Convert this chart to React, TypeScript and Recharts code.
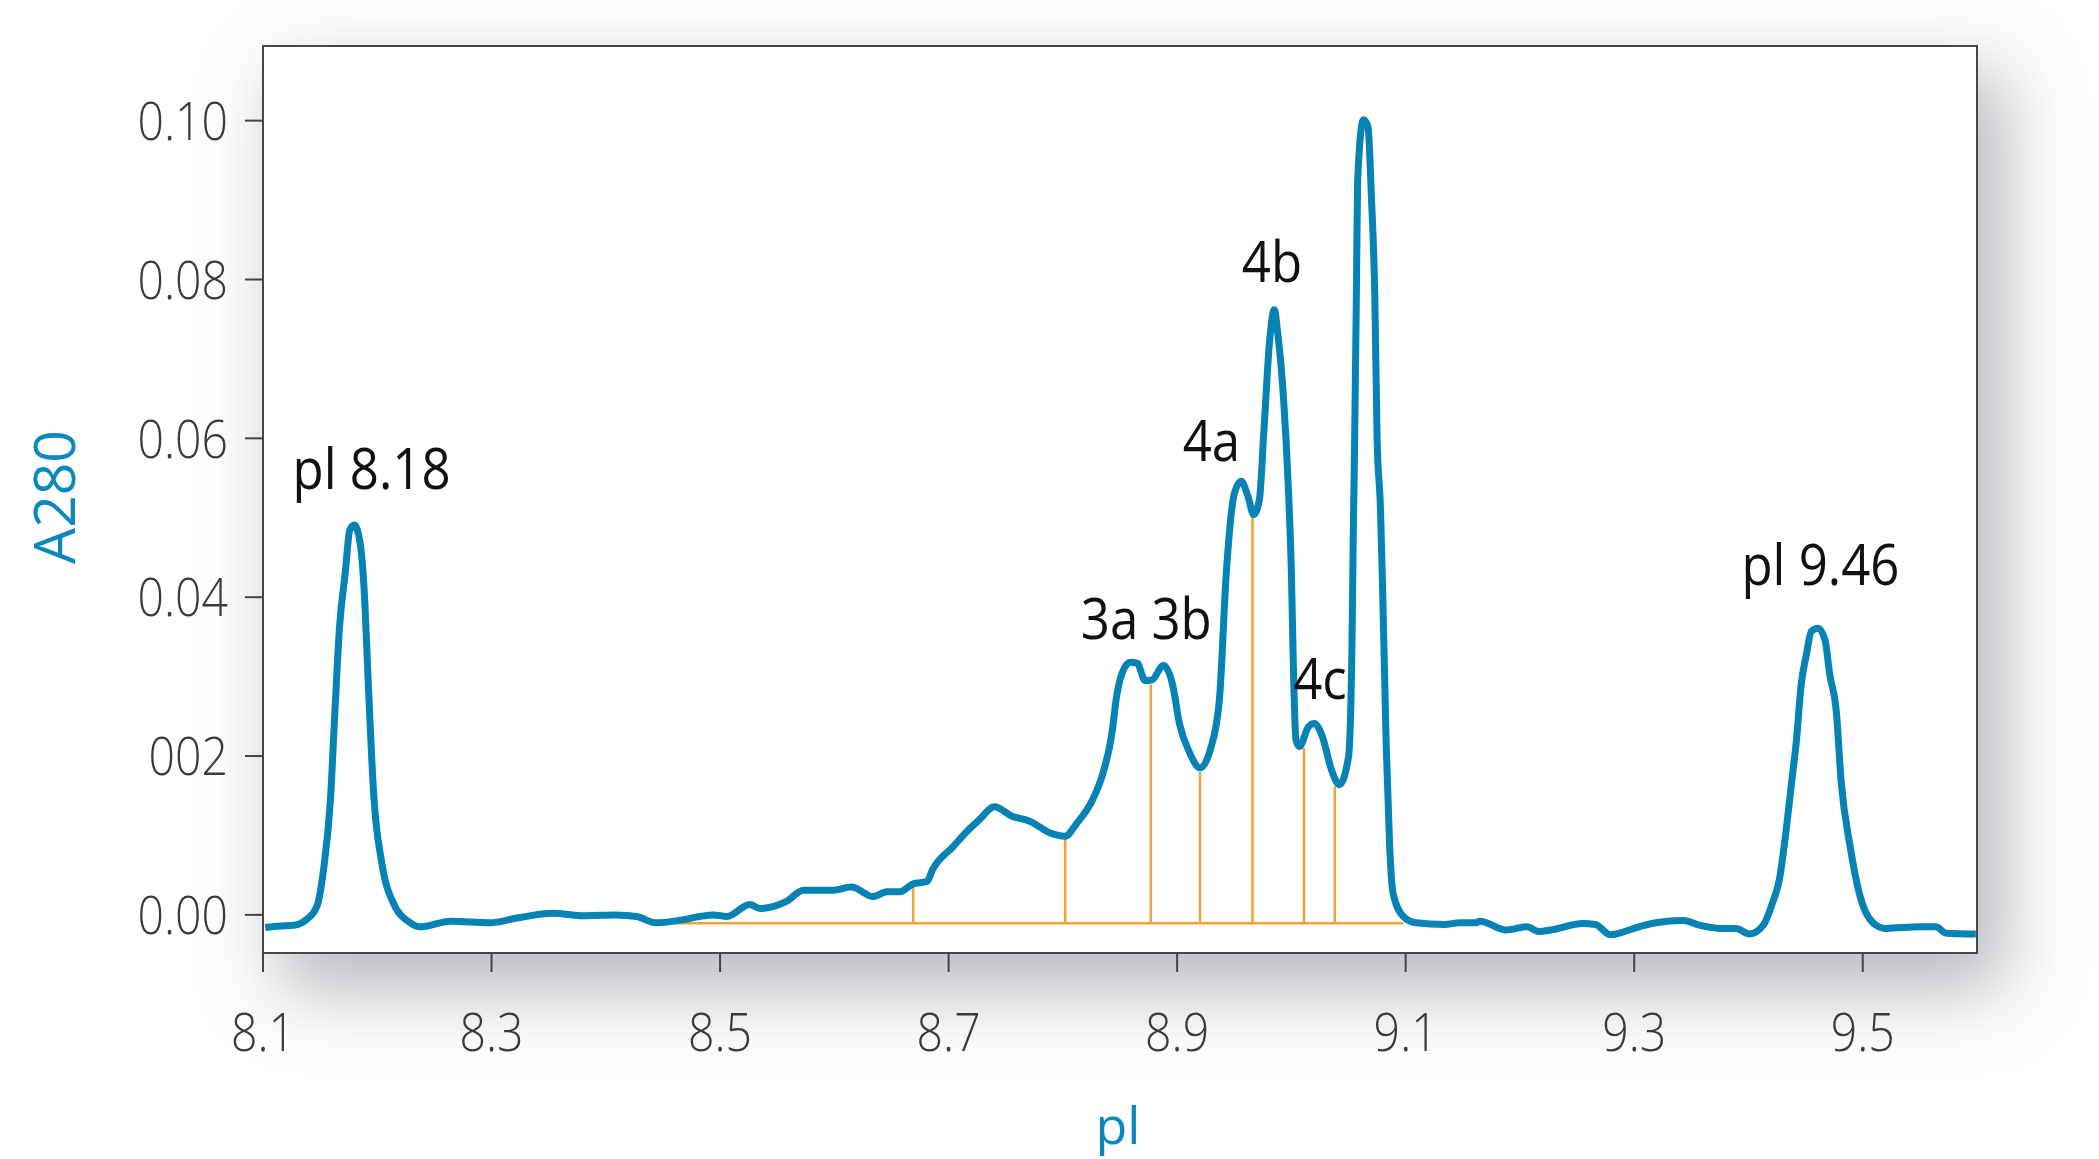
import { ComposedChart, Line, Scatter, XAxis, YAxis } from "recharts";

// axis ticks
const X_TICKS = [8.1, 8.3, 8.5, 8.7, 8.9, 9.1, 9.3, 9.5];
const X_TICK_LABELS = ["8.1", "8.3", "8.5", "8.7", "8.9", "9.1", "9.3", "9.5"];
const Y_TICKS = [0, 0.02, 0.04, 0.06, 0.08, 0.1];
const Y_TICK_LABELS = ["0.00", "002", "0.04", "0.06", "0.08", "0.10"];

// A280 trace
const PI_VALUES = [
  8.102, 8.115, 8.127, 8.138, 8.147, 8.153, 8.159, 8.163, 8.167, 8.172,
  8.176, 8.18, 8.185, 8.189, 8.192, 8.197, 8.204, 8.214, 8.229, 8.237,
  8.264, 8.299, 8.322, 8.354, 8.38, 8.409, 8.427, 8.444, 8.468, 8.482,
  8.494, 8.506, 8.526, 8.535, 8.558, 8.573, 8.599, 8.615, 8.634, 8.646,
  8.657, 8.669, 8.681, 8.686, 8.704, 8.716, 8.727, 8.74, 8.756, 8.771,
  8.789, 8.802, 8.812, 8.826, 8.835, 8.843, 8.847, 8.852, 8.859, 8.865,
  8.872, 8.878, 8.888, 8.896, 8.902, 8.911, 8.92, 8.929, 8.937, 8.943,
  8.95, 8.956, 8.962, 8.967, 8.972, 8.976, 8.981, 8.985, 8.988, 8.993,
  8.997, 9.0, 9.002, 9.004, 9.007, 9.015, 9.02, 9.027, 9.035, 9.042,
  9.05, 9.053, 9.054, 9.055, 9.057, 9.058, 9.063, 9.067, 9.07, 9.073,
  9.075, 9.078, 9.08, 9.083, 9.086, 9.089, 9.098, 9.109, 9.134, 9.147,
  9.161, 9.165, 9.188, 9.206, 9.217, 9.227, 9.255, 9.266, 9.279, 9.287,
  9.302, 9.319, 9.343, 9.357, 9.375, 9.389, 9.401, 9.413, 9.421, 9.427,
  9.433, 9.438, 9.442, 9.446, 9.451, 9.455, 9.461, 9.467, 9.471, 9.477,
  9.481, 9.489, 9.497, 9.509, 9.52, 9.55, 9.564, 9.573, 9.599,
];
const A280_VALUES = [
  -0.0016, -0.0014, -0.0013, -0.0006, 0.001, 0.0057, 0.0145, 0.0258, 0.0363, 0.0431,
  0.0485, 0.0491, 0.0468, 0.0397, 0.0296, 0.0149, 0.0065, 0.0015, -0.001, -0.0015,
  -0.0008, -0.001, -0.0004, 0.0002, -0.0001, 0.0, -0.0002, -0.001, -0.0006, -0.0002,
  0.0, -0.0002, 0.0013, 0.0008, 0.0017, 0.0031, 0.0031, 0.0035, 0.0023, 0.0029,
  0.0029, 0.0039, 0.0042, 0.0057, 0.0086, 0.0105, 0.012, 0.0136, 0.0124, 0.0118,
  0.0103, 0.0099, 0.0115, 0.0145, 0.0178, 0.0229, 0.0275, 0.0305, 0.0318, 0.0317,
  0.0295, 0.0296, 0.0314, 0.029, 0.0241, 0.0204, 0.0185, 0.0208, 0.0271, 0.043,
  0.053, 0.0546, 0.0527, 0.0504, 0.0523, 0.0611, 0.0724, 0.0762, 0.0733, 0.0653,
  0.0548, 0.043, 0.0296, 0.022, 0.0212, 0.0237, 0.0241, 0.0225, 0.0183, 0.0164,
  0.0199, 0.0338, 0.0464, 0.056, 0.08, 0.0926, 0.1001, 0.0993, 0.0905, 0.0779,
  0.06, 0.051, 0.04, 0.0212, 0.0086, 0.0027, -0.0002, -0.001, -0.0012, -0.001,
  -0.001, -0.0008, -0.0019, -0.0015, -0.0021, -0.0019, -0.0011, -0.0012, -0.0025, -0.0023,
  -0.0016, -0.001, -0.0007, -0.0013, -0.0017, -0.0017, -0.0024, -0.0013, 0.0015, 0.0044,
  0.0107, 0.017, 0.022, 0.0288, 0.033, 0.0357, 0.0361, 0.0346, 0.0304, 0.0254,
  0.017, 0.0086, 0.0027, -0.001, -0.0017, -0.0015, -0.0015, -0.0023, -0.0024,
];

// orange integration baseline + peak dividers
const BASELINE_A = -0.00105;
const BASELINE_PI = [8.455, 9.098];
const DIVIDER_PI = [8.669, 8.802, 8.877, 8.92, 8.966, 9.011, 9.038];
const DIVIDER_TOP = [0.0039, 0.0099, 0.029, 0.018, 0.0502, 0.021, 0.0162];

// peak annotations (centre of text)
const LABEL_TEXT = ["pl 8.18", "3a 3b", "4a", "4b", "4c", "pl 9.46"];
const LABEL_PI = [8.195, 8.873, 8.93, 8.983, 9.025, 9.463];
const LABEL_A = [0.0561, 0.0372, 0.0597, 0.0822, 0.0297, 0.044];

const X_DOMAIN = [8.1, 9.6];
const Y_DOMAIN = [-0.0048, 0.1094];

const BLUE = "#0682b5";
const TITLE_BLUE = "#0a88c0";
const ORANGE = "#f6a133";
const FONT = "'Open Sans', 'Noto Sans', sans-serif";

const curve = PI_VALUES.map((x, i) => ({ x, y: A280_VALUES[i] }));
const baseline = BASELINE_PI.map((x) => ({ x, y: BASELINE_A }));
const dividers = DIVIDER_PI.flatMap((x, i) => [
  { x, y: BASELINE_A },
  { x, y: DIVIDER_TOP[i] },
  { x, y: null },
]);
const labels = LABEL_TEXT.map((label, i) => ({ x: LABEL_PI[i], y: LABEL_A[i], label }));

function YTick(props: any) {
  const { x, y, payload, index } = props;
  const i = Y_TICKS.indexOf(payload.value);
  return (
    <g transform={`translate(${x},${y}) scale(0.86,1)`}>
      <text x={0} y={0} dy="0.357em" textAnchor="end" fontSize={54} fontWeight={300} fill="#3a3a3a" fontFamily={FONT}>
        {Y_TICK_LABELS[i >= 0 ? i : index]}
      </text>
    </g>
  );
}

function XTick(props: any) {
  const { x, y, payload, index } = props;
  const i = X_TICKS.indexOf(payload.value);
  return (
    <g transform={`translate(${x},${y}) scale(0.86,1)`}>
      <text x={0} y={0} dy="0.714em" textAnchor="middle" fontSize={54} fontWeight={300} fill="#3a3a3a" fontFamily={FONT}>
        {X_TICK_LABELS[i >= 0 ? i : index]}
      </text>
    </g>
  );
}

function PeakLabel(props: any) {
  const { cx, cy, payload } = props;
  if (cx == null || cy == null) return null;
  return (
    <g transform={`translate(${cx},${cy}) scale(0.91,1)`}>
      <text x={0} y={0} dy="0.357em" textAnchor="middle" fontSize={56} fill="#111" fontFamily={FONT}>
        {payload.label}
      </text>
    </g>
  );
}

export default function App() {
  return (
    <div style={{ position: "absolute", left: 0, top: 0, width: 2099, height: 1159, background: "#fff", overflow: "hidden" }}>
      {/* plot frame with soft drop shadow */}
      <div
        style={{
          position: "absolute",
          left: 262,
          top: 45,
          width: 1716,
          height: 909,
          boxSizing: "border-box",
          border: "2px solid #474747",
          background: "#fff",
          boxShadow: "22px 32px 70px 6px rgba(70,76,88,0.38)",
        }}
      />
      <div style={{ position: "absolute", left: 0, top: 0 }}>
        <ComposedChart width={2099} height={1159} margin={{ top: 46, right: 122, bottom: 0, left: 20 }}>
          <XAxis
            type="number"
            dataKey="x"
            domain={X_DOMAIN}
            ticks={X_TICKS}
            allowDataOverflow
            height={206}
            axisLine={false}
            tickLine={{ stroke: "#444", strokeWidth: 2 }}
            tickSize={19}
            tickMargin={40}
            tick={<XTick />}
          />
          <YAxis
            type="number"
            dataKey="y"
            domain={Y_DOMAIN}
            ticks={Y_TICKS}
            allowDataOverflow
            width={243}
            axisLine={false}
            tickLine={{ stroke: "#444", strokeWidth: 2 }}
            tickSize={18}
            tickMargin={17}
            tick={<YTick />}
          />
          <Line data={baseline} dataKey="y" type="linear" stroke={ORANGE} strokeWidth={2.5} dot={false} isAnimationActive={false} />
          <Line data={dividers} dataKey="y" type="linear" stroke={ORANGE} strokeWidth={2.5} dot={false} connectNulls={false} isAnimationActive={false} />
          <Line
            data={curve}
            dataKey="y"
            type="monotone"
            stroke={BLUE}
            strokeWidth={7}
            strokeLinejoin="round"
            dot={false}
            isAnimationActive={false}
          />
          <Scatter data={labels} dataKey="y" shape={<PeakLabel />} isAnimationActive={false} />
        </ComposedChart>
      </div>
      {/* axis titles */}
      <svg width={2099} height={1159} style={{ position: "absolute", left: 0, top: 0, pointerEvents: "none" }}>
        <text transform="translate(55,497) rotate(-90)" dy="0.357em" textAnchor="middle" fontSize={57} fill={TITLE_BLUE} fontFamily={FONT}>
          A280
        </text>
        <text x={1118} y={1144} textAnchor="middle" fontSize={52} fill={TITLE_BLUE} fontFamily={FONT}>
          pl
        </text>
      </svg>
    </div>
  );
}
